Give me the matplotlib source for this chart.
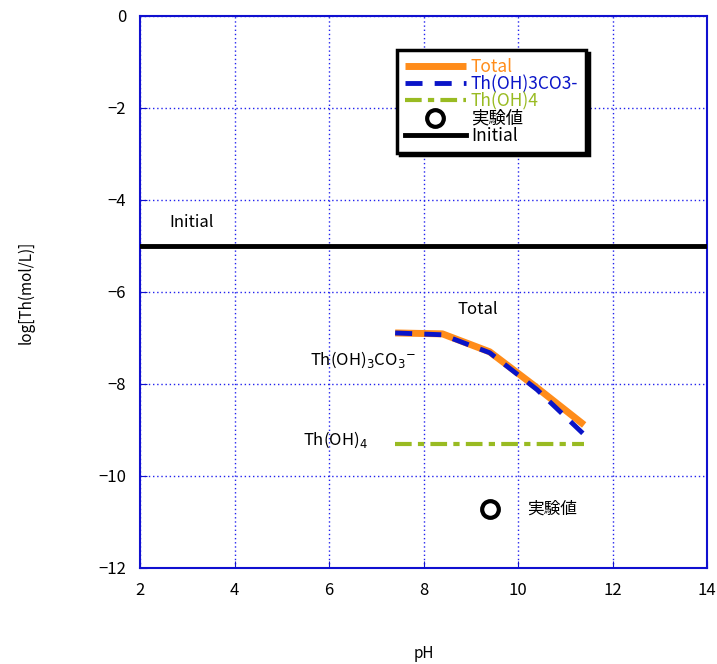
import matplotlib
matplotlib.use("Agg")
import matplotlib.pyplot as plt

plt.rcParams['font.family'] = ['Noto Sans CJK JP', 'DejaVu Sans']

ph = [7.4, 8.4, 9.4, 10.4, 11.4]
total = [-6.89, -6.91, -7.30, -8.08, -8.89]
carb = [-6.89, -6.93, -7.32, -8.12, -9.10]
ph_oh4 = [7.4, 11.4]
oh4 = [-9.30, -9.30]
exp_ph = [9.4]
exp_val = [-10.72]
initial = -5.0

fig = plt.figure(figsize=(7.17, 6.64), dpi=100)
ax = fig.add_axes([140/717, 1-568/664, 567/717, 552/664])

ax.plot(ph, total, color='#ff8c1a', lw=5, label='Total', solid_capstyle='butt', zorder=3)
ax.plot(ph, carb, color='#0a14c8', lw=3.5, ls=(0, (3.5, 2.5)), label='Th(OH)3CO3-', zorder=4)
ax.plot(ph_oh4, oh4, color='#99bb22', lw=3, ls=(0, (4, 1.5, 1.5, 1.5)), label='Th(OH)4', zorder=3)
ax.plot(exp_ph, exp_val, 'o', mfc='white', mec='black', mew=3, ms=12, label='実験値', zorder=5)
ax.axhline(initial, color='black', lw=3.5, label='Initial', zorder=3)

ax.set_xlim(2, 14)
ax.set_ylim(-12, 0)
ax.set_xticks(range(2, 15, 2))
ax.set_yticks(range(-12, 1, 2))
ax.grid(True, color='#2222ee', ls=(0, (1, 2)), lw=1)
for s in ax.spines.values():
    s.set_color('#1010d0')
    s.set_linewidth(1.5)
ax.tick_params(direction='in', colors='#1010d0', labelcolor='black', length=5, labelsize=12, pad=10)

ax.set_xlabel('pH', fontsize=11, labelpad=33)
ax.set_ylabel('log[Th(mol/L)]', fontsize=11, labelpad=46)

ax.text(2.63, -4.48, 'Initial', fontsize=12, va='center', ha='left')
ax.text(8.73, -6.37, 'Total', fontsize=12, va='center', ha='left')
ax.text(5.6, -7.48, r'Th(OH)$_3$CO$_3$$^{-}$', fontsize=12, va='center', ha='left')
ax.text(5.45, -9.22, r'Th(OH)$_4$', fontsize=12, va='center', ha='left')
ax.text(10.2, -10.72, '実験値', fontsize=12, va='center', ha='left')

leg = ax.legend(loc='upper left', bbox_to_anchor=((397-140)/567, 1-(50-16)/552),
                frameon=True, fancybox=False, shadow={'color': 'black', 'alpha': 1}, framealpha=1,
                edgecolor='black', fontsize=12.5, handlelength=3.5, handletextpad=0.3,
                labelspacing=-0.05, borderpad=0.45, borderaxespad=0)
leg.get_frame().set_linewidth(2.5)
colors = ['#ff8c1a', '#0a14c8', '#99bb22', 'black', 'black']
for t, c in zip(leg.get_texts(), colors):
    t.set_color(c)

fig.savefig('out.png', dpi=100)
